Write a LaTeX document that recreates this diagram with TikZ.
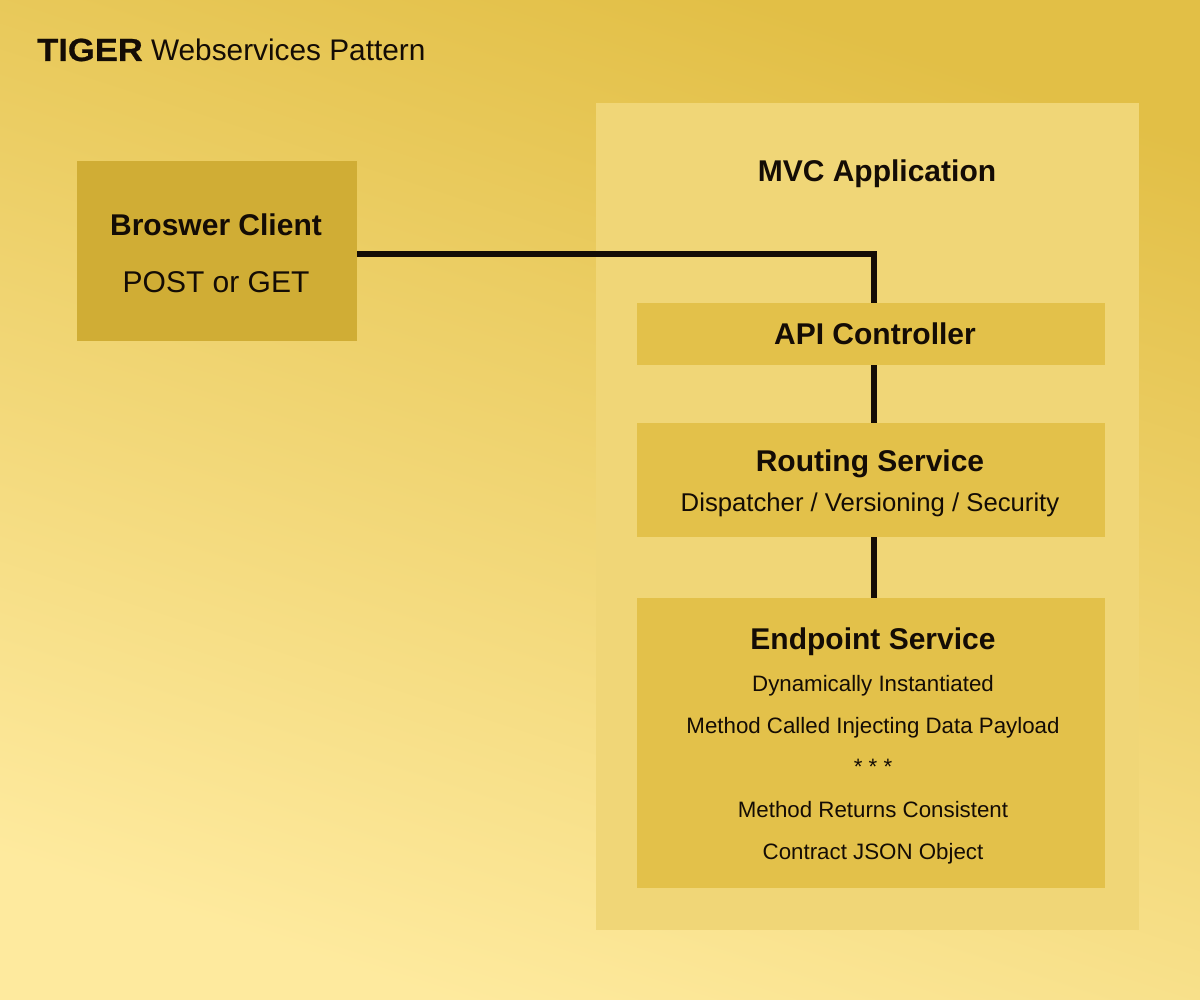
\documentclass[tikz,border=0pt]{standalone}
\usepackage{fontspec}
\setmainfont{Liberation Sans}
\newfontfamily\tigerfont[FakeStretch=1.08, FakeBold=0.6]{Liberation Sans Bold}
\definecolor{bgtop}{HTML}{E2BF46}
\definecolor{bgbot}{HTML}{FEEA9E}
\definecolor{panel}{HTML}{F0D677}
\definecolor{clientfill}{HTML}{D0AD35}
\definecolor{innerfill}{HTML}{E3C14A}
\definecolor{ink}{HTML}{140C05}
\tikzset{
  box/.style={draw=none, inner sep=0pt, rectangle},
  head/.style={text=ink, inner sep=0pt, anchor=base, font=\bfseries\fontsize{30}{36}\selectfont},
  sub/.style={text=ink, inner sep=0pt, anchor=base, font=\fontsize{22.3}{27}\selectfont},
  conn/.style={draw=ink, line width=5.5pt, line join=miter, line cap=butt},
}
\begin{document}
\begin{tikzpicture}[x=1pt,y=-1pt]
\useasboundingbox (0,0) rectangle (1200,1000);
\shade[top color=bgtop, bottom color=bgbot, shading angle=-18] (0,0) rectangle (1200,1000);

% title
\node[text=ink, inner sep=0pt, anchor=base west, font=\fontsize{29.8}{36}\selectfont] (title) at (37,61) {{\tigerfont\fontsize{32}{36}\selectfont TIGER} Webservices Pattern};

% MVC panel
\node[box, fill=panel, minimum width=543pt, minimum height=827pt] (mvc) at (867,516.5) {};
\node[head] (mvctitle) at (877,182) {MVC Application};

% browser client
\node[box, fill=clientfill, minimum width=280pt, minimum height=180pt] (client) at (217,251) {};
\node[head] (clienttitle) at (216,236) {Broswer Client};
\node[text=ink, inner sep=0pt, anchor=base, font=\fontsize{30}{36}\selectfont] (clientsub) at (216,293) {POST or GET};

% API controller
\node[box, fill=innerfill, minimum width=468pt, minimum height=62pt] (api) at (871,334) {};
\node[head] (apititle) at (875,345) {API Controller};

% routing service
\node[box, fill=innerfill, minimum width=468pt, minimum height=114pt] (routing) at (871,480) {};
\node[head] (routingtitle) at (870,471) {Routing Service};
\node[text=ink, inner sep=0pt, anchor=base, font=\fontsize{25.7}{30}\selectfont] (routingsub) at (870,511) {Dispatcher / Versioning / Security};

% endpoint service
\node[box, fill=innerfill, minimum width=468pt, minimum height=290pt] (endpoint) at (871,743) {};
\node[head] (endpointtitle) at (873,649) {Endpoint Service};
\node[sub] (e1) at (873,691) {Dynamically Instantiated};
\node[sub] (e2) at (873,733) {Method Called Injecting Data Payload};
\node[sub] (e3) at (873,774) {* * *};
\node[sub] (e4) at (873,817) {Method Returns Consistent};
\node[sub] (e5) at (873,859) {Contract JSON Object};

% connectors
\coordinate (apitop) at ([xshift=3pt]api.north);
\draw[conn] ([yshift=-3pt]client.east) -| (apitop);
\draw[conn] ([xshift=3pt]api.south) -- ([xshift=3pt]api.south |- routing.north);
\draw[conn] ([xshift=3pt]routing.south) -- ([xshift=3pt]routing.south |- endpoint.north);
\end{tikzpicture}
\end{document}
